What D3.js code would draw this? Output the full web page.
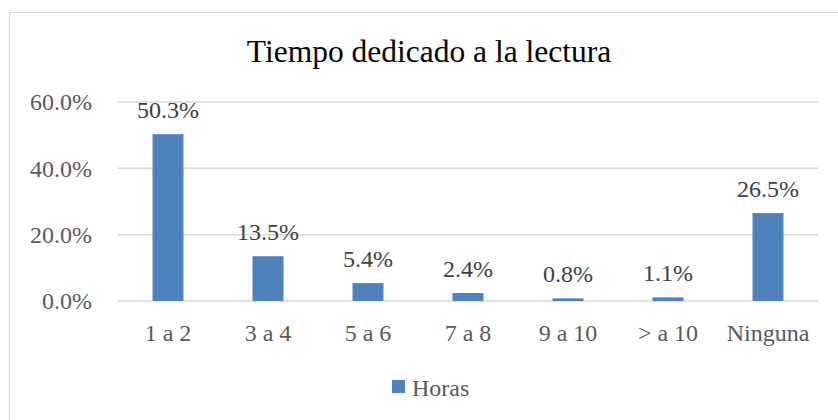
<!DOCTYPE html>
<html>
<head>
<meta charset="utf-8">
<script src="https://cdn.jsdelivr.net/npm/d3@7"></script>
<style>
    body { margin: 0; background: #fff; }
    svg { display: block; }
    svg text { font-family: "Liberation Serif", "Times New Roman", serif; }
</style>
</head>
<body>
<div id="chart"></div>
<script>
const categories = ["1 a 2", "3 a 4", "5 a 6", "7 a 8", "9 a 10", "> a 10", "Ninguna"];
const values = [50.3, 13.5, 5.4, 2.4, 0.8, 1.1, 26.5];
const yTicks = [0, 20, 40, 60];
const seriesName = "Horas";

const width = 838, height = 420;
const margin = { top: 102, right: 20, bottom: 119, left: 118 };
const barColor = "#4f81bd";
const labelSize = 24;

const svg = d3.select("#chart").append("svg")
    .attr("width", width)
    .attr("height", height);

// chart area frame
svg.append("rect")
    .attr("x", 9.5).attr("y", 12.5)
    .attr("width", 840).attr("height", 420)
    .attr("fill", "none")
    .attr("stroke", "#d9d9d9");

const x = d3.scaleBand()
    .domain(categories)
    .range([margin.left, width - margin.right])
    .paddingInner(0.69)
    .paddingOuter(0.345);

const y = d3.scaleLinear()
    .domain([0, 60])
    .range([height - margin.bottom, margin.top]);

// gridlines
svg.append("g")
    .selectAll("line")
    .data(yTicks)
    .join("line")
    .attr("x1", margin.left)
    .attr("x2", width - margin.right)
    .attr("y1", d => y(d))
    .attr("y2", d => y(d))
    .attr("stroke", "#d9d9d9")
    .attr("stroke-width", 1.5);

// y axis labels
const yAxis = d3.axisLeft(y)
    .tickValues(yTicks)
    .tickSize(0)
    .tickPadding(26)
    .tickFormat(d => d.toFixed(1) + "%");

svg.append("g")
    .attr("transform", `translate(${margin.left},0)`)
    .call(yAxis)
    .attr("font-family", null)
    .call(g => g.select(".domain").remove())
    .selectAll("text")
    .attr("font-size", labelSize)
    .attr("fill", "#595959");

// x axis labels
const xAxis = d3.axisBottom(x)
    .tickSize(0)
    .tickPadding(23);

svg.append("g")
    .attr("transform", `translate(0,${y(0)})`)
    .call(xAxis)
    .attr("font-family", null)
    .call(g => g.select(".domain").remove())
    .selectAll("text")
    .attr("font-size", labelSize)
    .attr("fill", "#595959");

// bars
svg.append("g")
    .selectAll("rect")
    .data(values)
    .join("rect")
    .attr("x", (d, i) => x(categories[i]))
    .attr("y", d => y(d))
    .attr("width", x.bandwidth())
    .attr("height", d => y(0) - y(d))
    .attr("fill", barColor);

// data labels
svg.append("g")
    .selectAll("text")
    .data(values)
    .join("text")
    .attr("x", (d, i) => x(categories[i]) + x.bandwidth() / 2)
    .attr("y", d => y(d) - 16)
    .attr("text-anchor", "middle")
    .attr("font-size", labelSize)
    .attr("fill", "#404040")
    .text(d => d.toFixed(1) + "%");

// title
svg.append("text")
    .attr("x", 429)
    .attr("y", 62)
    .attr("text-anchor", "middle")
    .attr("font-size", 31.5)
    .attr("fill", "#000")
    .text("Tiempo dedicado a la lectura");

// legend
const legend = svg.append("g").attr("transform", "translate(392,380)");
legend.append("rect")
    .attr("width", 13).attr("height", 13)
    .attr("fill", barColor);
legend.append("text")
    .attr("x", 20)
    .attr("y", 16)
    .attr("font-size", labelSize)
    .attr("fill", "#595959")
    .text(seriesName);
</script>
</body>
</html>
